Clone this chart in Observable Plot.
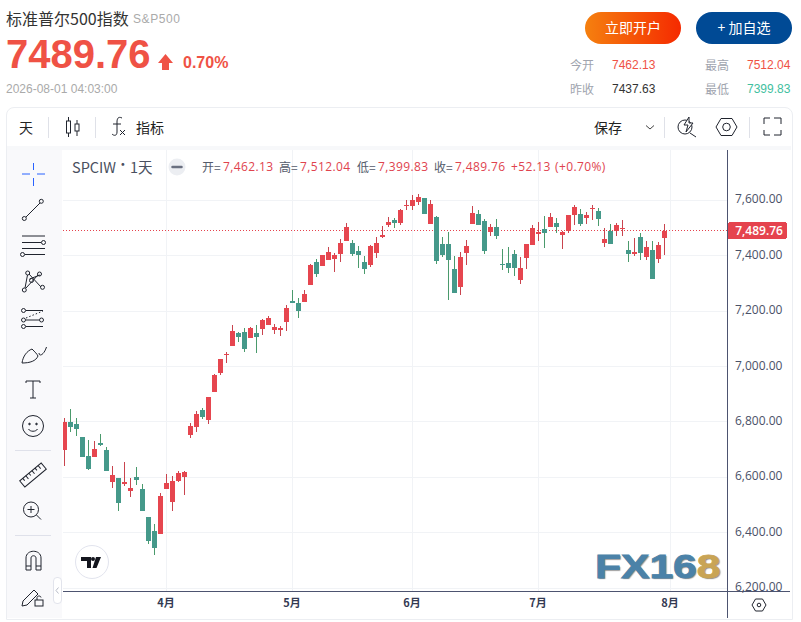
<!DOCTYPE html>
<html lang="zh">
<head>
<meta charset="utf-8">
<script src="https://cdn.jsdelivr.net/npm/d3@7"></script>
<script src="https://cdn.jsdelivr.net/npm/@observablehq/plot@0.6"></script>
<style>
html,body{margin:0;padding:0;background:#fff;}
#page{position:relative;width:801px;height:622px;overflow:hidden;font-family:"Liberation Sans","Noto Sans CJK SC",sans-serif;}
.t{position:absolute;white-space:nowrap;line-height:1;}
.box{position:absolute;}
#chart{position:absolute;left:0;top:150px;}
#chart svg{display:block;}
svg.icons{position:absolute;left:0;top:0;pointer-events:none;}
.lg{font-family:"Open Sans",sans-serif;font-size:12px;letter-spacing:.4px;color:#e0434e;top:161px;}
.lk{font-family:"Noto Sans CJK SC",sans-serif;font-size:12px;color:#555b6b;top:161px;}
.cjk{font-family:"Noto Sans CJK SC",sans-serif;}
</style>
</head>
<body>
<div id="page">
  <div class="t cjk" style="left:6px;top:10px;font-size:16px;color:#333;">标准普尔500指数</div>
  <div class="t" style="left:133px;top:13px;font-size:12px;color:#aaa;letter-spacing:.6px;">S&amp;P500</div>
  <div class="t" style="left:6px;top:34px;font-size:40px;font-weight:700;color:#ef5245;">7489.76</div>
  <div class="t" style="left:183px;top:55px;font-size:16px;font-weight:700;color:#ef5245;">0.70%</div>
  <div class="t" style="left:6px;top:83px;font-size:12px;color:#aaa;">2026-08-01 04:03:00</div>

  <div class="box" style="left:585px;top:12px;width:96px;height:32px;border-radius:16px;background:linear-gradient(90deg,#f5800f,#f52a00);"></div>
  <div class="t cjk" style="left:585px;top:20px;width:96px;text-align:center;font-size:14px;color:#fff;">立即开户</div>
  <div class="box" style="left:696px;top:12px;width:96px;height:32px;border-radius:16px;background:#004a95;"></div>
  <div class="t cjk" style="left:696px;top:20px;width:96px;text-align:center;font-size:14px;color:#fff;">+ 加自选</div>

  <div class="t cjk" style="left:570px;top:59px;font-size:12px;color:#a0a4ae;">今开</div>
  <div class="t" style="left:612px;top:59px;font-size:12px;color:#ef5245;">7462.13</div>
  <div class="t cjk" style="left:705px;top:59px;font-size:12px;color:#a0a4ae;">最高</div>
  <div class="t" style="left:747px;top:59px;font-size:12px;color:#ef5245;">7512.04</div>
  <div class="t cjk" style="left:570px;top:83px;font-size:12px;color:#a0a4ae;">昨收</div>
  <div class="t" style="left:612px;top:83px;font-size:12px;color:#333;">7437.63</div>
  <div class="t cjk" style="left:705px;top:83px;font-size:12px;color:#a0a4ae;">最低</div>
  <div class="t" style="left:747px;top:83px;font-size:12px;color:#3fc0a0;">7399.83</div>

  <!-- panel frame -->
  <div class="box" style="left:6px;top:107px;width:785px;height:511px;border:1px solid #eceef2;border-radius:8px 8px 0 0;box-sizing:content-box;"></div>
  <div class="box" style="left:7px;top:146px;width:784px;height:4px;background:#f7f8fa;"></div>
  <div class="box" style="left:7px;top:150px;width:55px;height:468px;background:#f9f9fb;"></div>

  <div id="chart"></div>

  <div class="t cjk" style="left:19px;top:120px;font-size:14px;color:#222;">天</div>
  <div class="t cjk" style="left:136px;top:120px;font-size:14px;color:#222;">指标</div>
  <div class="t cjk" style="left:594px;top:120px;font-size:14px;color:#222;">保存</div>

  <div class="t cjk" style="left:72px;top:160px;font-size:14.5px;color:#4a5060;">SPCIW<span style="font-weight:700;position:relative;top:-3px;"> ･ </span>1天</div>
  <div class="t lk" style="left:202px;">开=</div><div class="t lg" style="left:223px;">7,462.13</div>
  <div class="t lk" style="left:279px;">高=</div><div class="t lg" style="left:300px;">7,512.04</div>
  <div class="t lk" style="left:357px;">低=</div><div class="t lg" style="left:378px;">7,399.83</div>
  <div class="t lk" style="left:434px;">收=</div><div class="t lg" style="left:455px;">7,489.76</div>
  <div class="t lg" style="left:511px;">+52.13</div><div class="t lg" style="left:555px;">(+0.70%)</div>

  <div class="t" style="left:595px;top:550px;font-family:'Liberation Sans',sans-serif;font-size:33px;font-weight:700;color:#4b82a8;-webkit-text-stroke:.8px #4b82a8;text-shadow:1px 1px 1px #8a8a8a;transform:scaleX(1.29);transform-origin:left top;">FX16<span style="color:#c9a455;-webkit-text-stroke:.8px #c9a455;">8</span></div>

  <svg class="icons" width="801" height="622" viewBox="0 0 801 622" fill="none" stroke="#20242e" stroke-width="1">
    <!-- header arrow -->
    <path d="M165.5 54 L173 63 H169 V70 H162 V63 H158 Z" fill="#ef5245" stroke="none"/>
    <!-- toolbar separators -->
    <path d="M48.5 117V138M95.5 117V138M664.5 117V138M749.5 117V138" stroke="#dfe1e8"/>
    <!-- candle icon -->
    <path d="M68.5 117V137M77 120V136" /><rect x="66.5" y="121" width="4" height="12" fill="#fff"/><rect x="75" y="124" width="4" height="7" fill="#fff"/>
    <!-- fx -->
    <path d="M122 118C118 116 117 119 117 122V132C117 136 114 136 112 134M113 124H121M120 130L125 135M125 130L120 135"/>
    <!-- chevron -->
    <path d="M646 125.5L650 129L654 125.5" stroke="#444"/>
    <!-- lightning search -->
    <circle cx="685" cy="127" r="7"/><path d="M690 133L696 137M689 117L684 125H688L686 132L693 123H689Z" fill="#fff"/>
    <!-- hexagon -->
    <path d="M716 127L721 118.5H732L737 127L732 135.5H721Z"/><circle cx="726.5" cy="127" r="3.8"/>
    <!-- fullscreen -->
    <path d="M764 124V118H770M774 118H781V124M781 130V135H774M770 135H764V130"/>
    <!-- legend minus -->
    <circle cx="177" cy="167" r="8.5" fill="#eceef2" stroke="none"/><path d="M172.5 167H181.5" stroke="#6a7080" stroke-width="2.5" stroke-linecap="round"/>
    <!-- left tools -->
    <path d="M22 174H30M37 174H45M33.5 163V170M33.5 178V186" stroke="#2962ff"/>
    <path d="M26 217L40 203"/><circle cx="24.3" cy="218.5" r="2"/><circle cx="41.3" cy="201.3" r="2"/>
    <path d="M22 236H45M22 242.5H41M22 248.5H45M25 254.5H45"/><circle cx="43.5" cy="242.5" r="2"/><circle cx="22.5" cy="254.5" r="2"/>
    <path d="M25 288L27.5 275M29 274L41 287M26 288L38 275M29.5 279L40 275"/><circle cx="27.7" cy="273" r="2"/><circle cx="39.5" cy="274" r="2"/><circle cx="31.5" cy="280.5" r="2"/><circle cx="24.3" cy="290" r="2"/><circle cx="42.5" cy="287.3" r="2"/>
    <path d="M26 310.5H43M26 320H39M26 326.5H43"/><path d="M26 318L43 311" stroke-dasharray="1.5 2"/><circle cx="23.5" cy="310.5" r="2"/><circle cx="23.5" cy="320" r="2"/><circle cx="41.5" cy="320" r="2"/><circle cx="23.5" cy="326.5" r="2"/>
    <path d="M22 363C23 356 27 351 32 349C35 352 37 354 38 356C36 361 30 363 22 363ZM39 353C39 357 44 355 46.5 347"/>
    <path d="M26 383V381H40V383M33 381V398M30 398H36"/>
    <circle cx="33" cy="426" r="10.5"/><circle cx="29.5" cy="424" r=".8" fill="#20242e"/><circle cx="36.5" cy="424" r=".8" fill="#20242e"/><path d="M28.5 429C30 432 36 432 37.5 429"/>
    <path d="M15 450.5H51M15 535.5H51" stroke="#dfe1ea"/>
    <g transform="rotate(-40 33 475)"><rect x="19" y="471" width="28" height="8"/><path d="M23 471V474M27 471V475M31 471V474M35 471V475M39 471V474M43 471V475"/></g>
    <circle cx="31" cy="509.5" r="7.5"/><path d="M36.5 515L41 519.5M27.5 509.5H34.5M31 506V513"/>
    <path d="M26 566V558C26 549 41 549 41 558V566M31 566V558C31 555 36 555 36 558V566M26 566H31V570H26ZM36 566H41V570H36Z"/>
    <path d="M23 601L22 606L27 605L38 594L34 590Z"/><rect x="35" y="600" width="8" height="6" fill="#f9f9fb"/><path d="M37 600V597.5C37 595.5 41 595.5 41 597.5"/>
    <!-- collapse handle -->
    <rect x="53.5" y="577.5" width="8" height="26" rx="3.5" fill="#fff" stroke="#e2e4ec"/><path d="M58.5 587.5L56 590.5L58.5 593.5" stroke="#b8bcc8"/>
    <!-- settings hex -->
    <path d="M752 605L755.5 599H762.5L766 605L762.5 611H755.5Z"/><circle cx="759" cy="605" r="1.8"/>
    <!-- TV badge -->
    <circle cx="92" cy="562" r="16.5" fill="#fff" stroke="#e2e4ee" stroke-width="1"/>
    <path d="M81 557H91V568H87V561H81ZM96 557H101L96.5 568H92.5Z" fill="#14161e" stroke="none"/><circle cx="93" cy="559" r="2" fill="#14161e" stroke="none"/>
  </svg>
</div>

<script>
const opens=[6698.4,6799.3,6792.1,6745.2,6676.8,6673.2,6723.6,6698.4,6583,6597.5,6575.9,6550.6,6601.1,6557.8,6456.9,6406.5,6395.7,6557.8,6511,6586.7,6601.1,6752.4,6781.3,6842.5,6806.5,6907.4,6975.8,7040.7,7073.1,7120,7123.6,7102,7120,7134.4,7148.8,7130.8,7130.8,7159.6,7235.3,7228.1,7231.7,7293,7375.9,7361.4,7383,7386.7,7404.7,7451.5,7444.3,7415.5,7375.9,7365,7408.2,7465.9,7509.2,7527.2,7516.4,7577.6,7577.6,7592,7606.5,7512.8,7538,7440.7,7440.7,7350.6,7285.7,7408.2,7512.8,7548.8,7523.6,7483.9,7502,7368.6,7372.2,7404.6,7311,7390.2,7437.1,7476.7,7494.8,7502,7516.4,7473.2,7487.6,7545.2,7548.8,7534.4,7566.8,7559.6,7444.3,7487.6,7487.6,7494.8,7419,7404.7,7466,7393.9,7419,7386.7,7462.13];
const closes=[6799.3,6781.3,6774.1,6673.2,6629.9,6702,6716.4,6622.7,6608.3,6507.4,6583,6561.4,6590.3,6478.6,6370.4,6345.2,6532.6,6579.5,6586.7,6615.5,6619.1,6784.9,6828.1,6817.3,6889.4,6968.6,7026.3,7044.3,7127.2,7105.6,7062.3,7138,7105.6,7166.8,7174,7141.6,7138,7210.1,7228.1,7199.3,7260.5,7365,7332.6,7401,7411.9,7401,7444.3,7502,7404.7,7401,7350.6,7433.5,7444.3,7473.1,7520,7516.4,7563.2,7581.2,7599.2,7610,7548.8,7584.8,7379.4,7401,7383,7264.1,7393.8,7433.5,7552.4,7509.2,7415.5,7502,7469.5,7365,7354.2,7354.2,7354.2,7440.7,7498.3,7483.9,7480.4,7538,7502,7484,7545.2,7574,7512.8,7545.2,7570.5,7530.8,7458.7,7440.7,7509.2,7498.4,7404.7,7411.9,7408.3,7429.9,7314.6,7437.1,7489.76];
const highs=[6813.7,6846.1,6813.7,6745.2,6734.4,6730.8,6756,6709.2,6640.7,6597.5,6655.1,6597.5,6637.1,6575.9,6456.9,6431.7,6543.4,6611.9,6604.7,6622.7,6622.7,6795.7,6838.9,6849.7,6889.4,6972.2,7026.3,7051.5,7148.8,7123.6,7138,7141.6,7148.8,7170.4,7181.3,7152.4,7145.2,7220.9,7275,7246.1,7275,7368.6,7386.7,7401,7429.9,7408.3,7458.7,7516.4,7455.1,7433.5,7397.5,7437.1,7465.9,7505.6,7538,7534.4,7566.8,7599.2,7617.3,7620.9,7606.5,7599.2,7541.6,7465.9,7483.9,7397.4,7411.9,7455.1,7577.6,7563.2,7530.8,7512.8,7530.8,7422.7,7429.9,7419,7393.8,7440.7,7509.2,7520,7541.6,7552.4,7534.4,7487.6,7545.2,7581.3,7566.8,7556,7581.3,7570.5,7498.4,7512.8,7516.4,7527.2,7451.5,7462.3,7480.4,7451.5,7451.5,7447.9,7512.04];
const lows=[6640.7,6763.2,6748.8,6673.2,6626.3,6673.2,6712.8,6622.7,6561.4,6478.6,6568.7,6529,6572.2,6478.6,6359.6,6320,6395.7,6557.8,6478.6,6583.1,6536.2,6741.6,6763.2,6810.1,6792.1,6907.4,6968.6,7011.9,7073.1,7087.6,7051.5,7102,7047.9,7112.8,7148.8,7116.4,7109.2,7127.2,7228.1,7174,7231.7,7293,7321.8,7361.4,7383,7339.8,7375.9,7451.5,7397.5,7354.2,7332.6,7357.8,7390.2,7462.3,7502,7498.3,7509.2,7563.2,7563.2,7581.2,7548.8,7512.8,7368.6,7393.8,7238.9,7264.1,7256.9,7365,7512.8,7509.2,7404.6,7469.5,7458.7,7347,7336.2,7325.4,7296.5,7350.6,7437.1,7451.5,7426.3,7502,7480.4,7422.7,7480.4,7509.2,7505.6,7512.8,7527.2,7505.6,7430,7440.7,7469.5,7469.5,7375.9,7397.5,7383,7383,7314.6,7372.2,7399.83];
const priceTicks=[6200,6400,6600,6800,7000,7200,7400,7600];
const monthTicks=[17,38,58,79,101];
const monthLabels=["4月","5月","6月","7月","8月"];
const lastClose=7489.76;

const candles=opens.map((o,i)=>({i,o,c:closes[i],h:highs[i],l:lows[i],up:closes[i]>=o}));
const UP="#e6464f",DOWN="#45998a",UPW="#c9444e",DOWNW="#4a9a6c",GRID="#f1f3f6",AXIS="#4d5470";
const fmt=d3.format(",.2f");
const Y_TOP=7780.4,Y_BOTTOM=6185.3,X_LEFT=-0.25,X_RIGHT=110.42,X_AXIS=110.5;
const crisp={shapeRendering:"crispEdges"};

const plot=Plot.plot({
  width:801,height:472,
  marginLeft:63,marginRight:74,marginTop:0,marginBottom:30,
  style:{background:"transparent",fontFamily:'"Open Sans","Noto Sans CJK SC",sans-serif',fontSize:"12px",color:"#4a5168"},
  x:{domain:[X_LEFT,X_RIGHT],axis:null},
  y:{domain:[Y_BOTTOM,Y_TOP],axis:null},
  marks:[
    Plot.ruleY(priceTicks,{stroke:GRID,strokeWidth:1,dy:-0.3,...crisp}),
    Plot.ruleX(monthTicks,{stroke:GRID,strokeWidth:1,dx:-0.5,...crisp}),
    Plot.ruleY([lastClose],{stroke:"#e5434e",strokeWidth:1,strokeDasharray:"1 2",dy:-0.3,...crisp}),
    Plot.ruleX(candles,{x:"i",y1:"l",y2:"h",stroke:d=>d.up?UPW:DOWNW,strokeWidth:1,dx:-0.5,clip:true,...crisp}),
    Plot.rect(candles,{x1:d=>d.i-2.5/6,x2:d=>d.i+2.5/6,y1:"o",y2:"c",fill:d=>d.up?UP:DOWN,clip:true,...crisp}),
    Plot.ruleX([X_AXIS],{stroke:AXIS,strokeWidth:1,dx:-0.5,y1:6093,y2:Y_TOP,...crisp}),
    Plot.ruleY([Y_BOTTOM],{stroke:AXIS,strokeWidth:1,dy:-1,x1:X_LEFT,x2:121,...crisp}),
    Plot.axisY(priceTicks,{anchor:"right",tickSize:0,tickPadding:7.5,label:null,tickFormat:fmt,fill:"#4a5168",dy:-1}),
    Plot.axisX(monthTicks,{anchor:"bottom",tickSize:0,tickPadding:7,label:null,tickFormat:d=>monthLabels[monthTicks.indexOf(d)],fill:"#333a52",fontWeight:600,dx:-1,fontFamily:'"Noto Sans CJK SC",sans-serif',fontSize:11}),
    Plot.rect([lastClose],{x1:110.58,x2:120.4,y1:d=>d-30.6,y2:d=>d+30.6,fill:"#e5434e",rx:2,...crisp}),
    Plot.text([lastClose],{x:111.7,y:d=>d,text:d=>fmt(d),fill:"#fff",textAnchor:"start",fontWeight:600,fontSize:12})
  ]
});
document.getElementById("chart").appendChild(plot);
</script>
</body>
</html>
